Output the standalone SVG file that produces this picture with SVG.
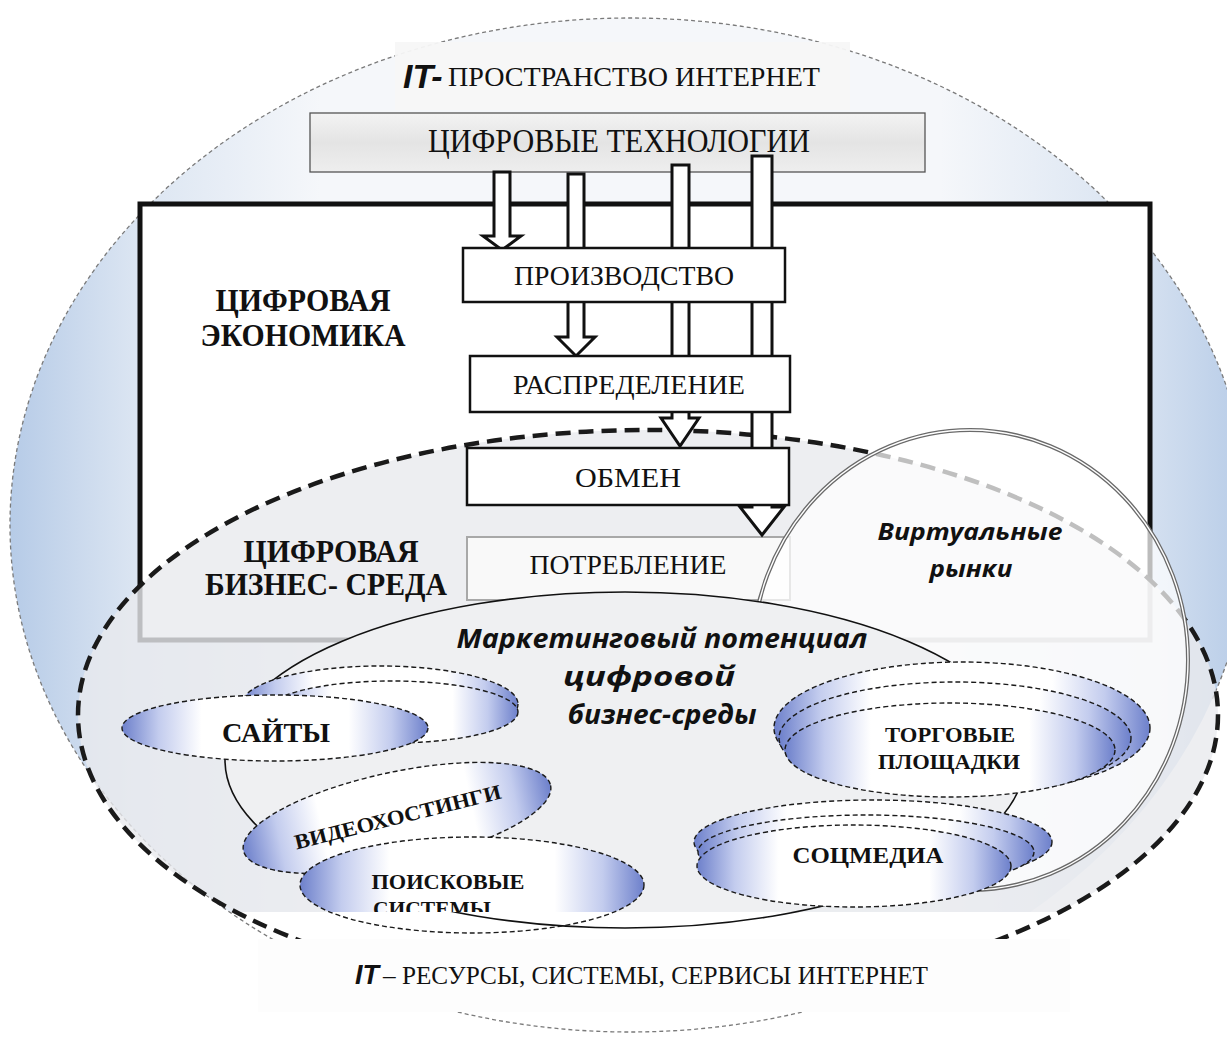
<svg xmlns="http://www.w3.org/2000/svg" width="1227" height="1039" viewBox="0 0 1227 1039">
  <defs>
    <style>
      .serif{font-family:"Liberation Serif","Times New Roman",serif;fill:#111}
      .b{font-weight:bold}
      .it{font-family:"Liberation Sans",Arial,sans-serif;font-weight:bold;font-style:italic;fill:#111}
      .cal{font-family:"Open Sans","Noto Sans",sans-serif;font-weight:bold;font-style:italic;fill:#111}
      .box{fill:#fff;stroke:#111;stroke-width:2.5}
      .arrow{fill:#fff;stroke:#111;stroke-width:3;stroke-linejoin:miter}
      .small{fill:url(#blueEnds);stroke:#1a1a1a;stroke-width:1.4;stroke-dasharray:5 3}
      .smallLine{fill:none;stroke:#1a1a1a;stroke-width:1.4;stroke-dasharray:5 3}
      .thick{fill:none;stroke:#1a1a1a;stroke-width:4.5;stroke-dasharray:15 8}
      .outer{fill:none;stroke:#7a7a7a;stroke-width:1.3;stroke-dasharray:4 3}
      .mkt{fill:none;stroke:#111;stroke-width:1.6}
    </style>
    <linearGradient id="sideBlue" x1="0" y1="0" x2="1" y2="0">
      <stop offset="0" stop-color="#b6cbe7"/>
      <stop offset="0.1" stop-color="#dbe5f2"/>
      <stop offset="0.25" stop-color="#f5f7fa"/>
      <stop offset="0.75" stop-color="#f5f7fa"/>
      <stop offset="0.9" stop-color="#dbe5f2"/>
      <stop offset="1" stop-color="#b6cbe7"/>
    </linearGradient>
    <linearGradient id="blueEnds" x1="0" y1="0" x2="1" y2="0">
      <stop offset="0" stop-color="#6d80cb"/>
      <stop offset="0.12" stop-color="#c3ccee"/>
      <stop offset="0.26" stop-color="#ffffff"/>
      <stop offset="0.74" stop-color="#ffffff"/>
      <stop offset="0.88" stop-color="#c3ccee"/>
      <stop offset="1" stop-color="#6d80cb"/>
    </linearGradient>
    <linearGradient id="techFill" x1="0" y1="0" x2="0" y2="1">
      <stop offset="0" stop-color="#f3f3f3"/>
      <stop offset="0.5" stop-color="#e4e4e4"/>
      <stop offset="1" stop-color="#eeeeee"/>
    </linearGradient>
    <ellipse id="outerShape" cx="630" cy="525" rx="620" ry="507"/>
    <ellipse id="bizShape" cx="648" cy="715" rx="570" ry="285"/>
    <ellipse id="mktShape" cx="625" cy="760" rx="400" ry="168"/>
    <ellipse id="searchShape" cx="472" cy="885" rx="172" ry="48"/>
    <clipPath id="outerVisible">
      <rect x="0" y="0" width="1227" height="700"/>
      <rect x="0" y="700" width="880" height="339"/>
    </clipPath>
    <clipPath id="belowBand">
      <rect x="0" y="912" width="1227" height="127"/>
    </clipPath>
  </defs>

  <rect x="0" y="0" width="1227" height="1039" fill="#fff"/>

  <!-- IT space of the internet: outer field -->
  <g id="it-space">
    <use href="#outerShape" fill="url(#sideBlue)"/>
    <use href="#outerShape" class="outer" clip-path="url(#outerVisible)"/>
    <rect x="395" y="42" width="455" height="68" fill="#f7f7f7" opacity="0.95"/>
    <text x="403" y="88" class="it" font-size="34">IT-</text>
    <text x="448" y="86" class="serif" font-size="28" textLength="372" lengthAdjust="spacingAndGlyphs">ПРОСТРАНСТВО ИНТЕРНЕТ</text>
  </g>

  <!-- digital technologies -->
  <g id="tech">
    <rect x="310" y="113" width="615" height="59" fill="url(#techFill)" stroke="#555" stroke-width="1.3"/>
    <text x="619" y="152" class="serif" font-size="34" text-anchor="middle" textLength="382" lengthAdjust="spacingAndGlyphs">ЦИФРОВЫЕ ТЕХНОЛОГИИ</text>
  </g>

  <!-- digital economy frame -->
  <g id="economy">
    <rect x="140" y="204" width="1010" height="436" fill="#fff" stroke="#111" stroke-width="5"/>
    <text x="303" y="311" class="serif b" font-size="31" text-anchor="middle" textLength="175" lengthAdjust="spacingAndGlyphs">ЦИФРОВАЯ</text>
    <text x="303" y="346" class="serif b" font-size="31" text-anchor="middle" textLength="205" lengthAdjust="spacingAndGlyphs">ЭКОНОМИКА</text>
  </g>

  <!-- digital business environment -->
  <g id="business-env">
    <use href="#bizShape" fill="#e8eaed" fill-opacity="0.8"/>
    <use href="#bizShape" class="thick"/>
  </g>

  <g id="consumption">
    <rect x="467" y="537" width="323" height="63" fill="#f9f9f9" stroke="#a8a8a8" stroke-width="2"/>
    <text x="628" y="574" class="serif" font-size="27" text-anchor="middle" textLength="197" lengthAdjust="spacingAndGlyphs">ПОТРЕБЛЕНИЕ</text>
  </g>

  <!-- hollow flow arrows -->
  <g id="connectors">
    <polygon class="arrow" points="494,172 510,172 510,236 521,236 502,250 483,236 494,236"/>
    <polygon class="arrow" points="568,174 584,174 584,337 595,337 576,356 557,337 568,337"/>
    <polygon class="arrow" points="672,165 689,165 689,418 699,418 680,446 661,418 672,418"/>
    <polygon class="arrow" points="752,156 772,156 772,507 784,507 762,535 740,507 752,507"/>
  </g>

  <g id="production">
    <rect x="463" y="248" width="322" height="54" class="box"/>
    <text x="624" y="285" class="serif" font-size="28" text-anchor="middle" textLength="220" lengthAdjust="spacingAndGlyphs">ПРОИЗВОДСТВО</text>
  </g>
  <g id="distribution">
    <rect x="470" y="356" width="320" height="56" class="box"/>
    <text x="629" y="394" class="serif" font-size="28" text-anchor="middle" textLength="232" lengthAdjust="spacingAndGlyphs">РАСПРЕДЕЛЕНИЕ</text>
  </g>
  <g id="exchange">
    <rect x="467" y="448" width="322" height="57" class="box"/>
    <text x="628" y="487" class="serif" font-size="28" text-anchor="middle" textLength="106" lengthAdjust="spacingAndGlyphs">ОБМЕН</text>
  </g>

  <!-- virtual markets -->
  <g id="virtual-markets">
    <ellipse cx="970" cy="660" rx="218" ry="230" fill="#fff" fill-opacity="0.72" stroke="#6a6a6a" stroke-width="4"/>
    <ellipse cx="970" cy="660" rx="218" ry="230" fill="none" stroke="#fff" stroke-width="1.4"/>
    <text x="970" y="540" class="cal" font-size="23" text-anchor="middle" textLength="185" lengthAdjust="spacingAndGlyphs">Виртуальные</text>
    <text x="971" y="577" class="cal" font-size="23" text-anchor="middle" textLength="83" lengthAdjust="spacingAndGlyphs">рынки</text>
  </g>

  <!-- marketing potential -->
  <g id="marketing">
    <use href="#mktShape" fill="#eff0f2"/>
    <use href="#mktShape" class="mkt"/>
  </g>

  <g id="sites">
    <ellipse cx="380" cy="704" rx="138" ry="38" class="small"/>
    <ellipse cx="392" cy="712" rx="126" ry="31" class="small"/>
    <ellipse cx="275" cy="728" rx="153" ry="33" class="small"/>
    <text x="276" y="742" class="serif b" font-size="27" text-anchor="middle" textLength="108" lengthAdjust="spacingAndGlyphs">САЙТЫ</text>
  </g>

  <g id="video-hosting">
    <ellipse cx="397" cy="818" rx="157" ry="46" transform="rotate(-12 397 818)" class="small"/>
    <text x="398" y="824" transform="rotate(-14 398 818)" class="serif b" font-size="21" text-anchor="middle" textLength="212" lengthAdjust="spacingAndGlyphs">ВИДЕОХОСТИНГИ</text>
  </g>

  <g id="search-systems">
    <use href="#searchShape" class="small"/>
    <text x="448" y="889" class="serif b" font-size="21" text-anchor="middle" textLength="153" lengthAdjust="spacingAndGlyphs">ПОИСКОВЫЕ</text>
    <text x="432" y="916" class="serif b" font-size="21" text-anchor="middle" textLength="118" lengthAdjust="spacingAndGlyphs">СИСТЕМЫ</text>
  </g>

  <g id="marketplaces">
    <ellipse cx="962" cy="728" rx="188" ry="66" class="small"/>
    <ellipse cx="955" cy="738" rx="176" ry="56" class="small"/>
    <ellipse cx="950" cy="750" rx="165" ry="47" class="small"/>
    <text x="950" y="742" class="serif b" font-size="21" text-anchor="middle" textLength="130" lengthAdjust="spacingAndGlyphs">ТОРГОВЫЕ</text>
    <text x="949" y="769" class="serif b" font-size="21" text-anchor="middle" textLength="142" lengthAdjust="spacingAndGlyphs">ПЛОЩАДКИ</text>
  </g>

  <g id="social-media">
    <ellipse cx="873" cy="842" rx="179" ry="42" class="small"/>
    <ellipse cx="866" cy="852" rx="168" ry="37" class="small"/>
    <ellipse cx="854" cy="866" rx="157" ry="41" class="small"/>
    <text x="868" y="863" class="serif b" font-size="23" text-anchor="middle" textLength="151" lengthAdjust="spacingAndGlyphs">СОЦМЕДИА</text>
  </g>

  <!-- headings inside the business environment -->
  <g id="labels">
    <text x="331" y="562" class="serif b" font-size="31" text-anchor="middle" textLength="175" lengthAdjust="spacingAndGlyphs">ЦИФРОВАЯ</text>
    <text x="326" y="595" class="serif b" font-size="31" text-anchor="middle" textLength="242" lengthAdjust="spacingAndGlyphs">БИЗНЕС- СРЕДА</text>
    <text x="662" y="648" class="cal" font-size="26" text-anchor="middle" textLength="411" lengthAdjust="spacingAndGlyphs">Маркетинговый потенциал</text>
    <text x="649" y="686" class="cal" font-size="26" text-anchor="middle" textLength="172" lengthAdjust="spacingAndGlyphs">цифровой</text>
    <text x="662" y="724" class="cal" font-size="26" text-anchor="middle" textLength="189" lengthAdjust="spacingAndGlyphs">бизнес-среды</text>
  </g>

  <!-- lower white band and the outlines that run through it -->
  <rect x="0" y="912" width="1227" height="127" fill="#fff"/>
  <g clip-path="url(#belowBand)">
    <use href="#outerShape" class="outer" clip-path="url(#outerVisible)"/>
    <use href="#bizShape" class="thick"/>
    <use href="#mktShape" class="mkt"/>
    <use href="#searchShape" class="smallLine"/>
  </g>

  <g id="it-resources">
    <rect x="258" y="939" width="812" height="73" fill="#fdfdfd"/>
    <text x="355" y="984" class="it" font-size="27">IT</text>
    <text x="383" y="984" class="serif" font-size="25" textLength="545" lengthAdjust="spacingAndGlyphs">– РЕСУРСЫ, СИСТЕМЫ, СЕРВИСЫ ИНТЕРНЕТ</text>
  </g>
</svg>
